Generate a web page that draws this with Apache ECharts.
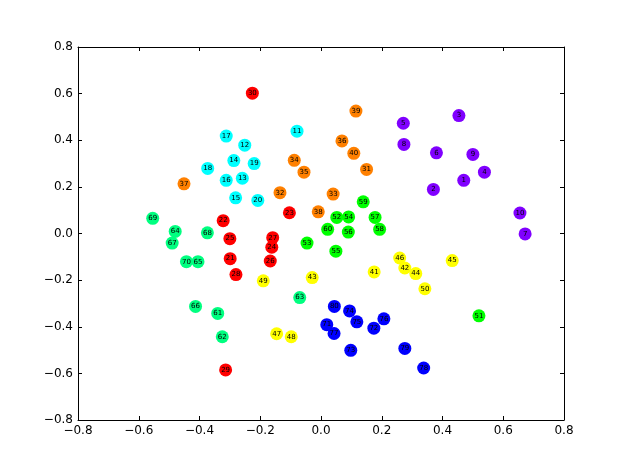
<!DOCTYPE html>
<html>
<head>
<meta charset="utf-8">
<script src="https://cdn.jsdelivr.net/npm/echarts@6/dist/echarts.min.js"></script>
<style>
html, body { margin: 0; padding: 0; background: #fff; }
#chart { width: 623px; height: 467px; }
</style>
</head>
<body>
<div id="chart"></div>
<script>
// point numbers 1..80, coordinates
const ids = Array.from({ length: 80 }, (_, i) => i + 1)
const xVals = [
  0.470, 0.370, 0.454, 0.538, 0.271, 0.380, 0.672, 0.273, 0.500, 0.655,
  -0.079, -0.251, -0.259, -0.287, -0.281, -0.312, -0.312, -0.373, -0.220, -0.208,
  -0.299, -0.322, -0.104, -0.162, -0.300, -0.167, -0.159, -0.280, -0.314, -0.226,
  0.150, -0.135, 0.040, -0.088, -0.056, 0.069, -0.451, -0.009, 0.115, 0.108,
  0.175, 0.276, -0.029, 0.312, 0.432, 0.259, -0.146, -0.098, -0.190, 0.342,
  0.520, 0.052, -0.046, 0.091, 0.049, 0.090, 0.178, 0.193, 0.139, 0.022,
  -0.340, -0.325, -0.070, -0.480, -0.405, -0.413, -0.490, -0.374, -0.554, -0.443,
  0.019, 0.174, 0.098, 0.094, 0.118, 0.207, 0.043, 0.338, 0.276, 0.044
]
const yVals = [
  0.228, 0.189, 0.506, 0.263, 0.473, 0.346, -0.002, 0.382, 0.339, 0.088,
  0.439, 0.379, 0.237, 0.313, 0.153, 0.228, 0.418, 0.279, 0.300, 0.142,
  -0.108, 0.055, 0.089, -0.059, -0.022, -0.118, -0.018, -0.176, -0.585, 0.602,
  0.275, 0.175, 0.169, 0.314, 0.263, 0.397, 0.213, 0.093, 0.525, 0.344,
  -0.165, -0.148, -0.189, -0.172, -0.116, -0.105, -0.430, -0.443, -0.203, -0.237,
  -0.353, 0.069, -0.041, 0.071, -0.076, 0.006, 0.069, 0.018, 0.136, 0.018,
  -0.343, -0.443, -0.275, 0.009, -0.121, -0.313, -0.041, 0.003, 0.065, -0.121,
  -0.391, -0.406, -0.501, -0.332, -0.379, -0.366, -0.429, -0.577, -0.493, -0.313
]
// each group of ten points has its own colour
const groupColors = ['#8000ff', '#00ffff', '#ff0000', '#ff8000', '#ffff00', '#00ff00', '#00ff80', '#0000ff']
const axisTicks = [-0.8, -0.6, -0.4, -0.2, 0.0, 0.2, 0.4, 0.6, 0.8]

const fmt = v => v.toFixed(1).replace('-', '\u2212')

const chart = echarts.init(document.getElementById('chart'))

const series = groupColors.map((c, g) => ({
  type: 'scatter',
  symbol: 'circle',
  symbolSize: 13,
  itemStyle: { color: c, opacity: 1 },
  label: {
    show: true,
    position: 'inside',
    formatter: p => p.value[2],
    fontSize: 7,
    fontFamily: 'DejaVu Sans',
    color: '#000'
  },
  data: ids.slice(g * 10, g * 10 + 10).map(id => [xVals[id - 1], yVals[id - 1], id])
}))

const baseAxis = {
  type: 'value',
  min: axisTicks[0],
  max: axisTicks[axisTicks.length - 1],
  interval: 0.2,
  splitLine: { show: false },
  axisLine: { show: true, onZero: false, lineStyle: { color: '#000', width: 1 } },
  axisTick: { show: true, inside: true, length: 4, lineStyle: { color: '#000' } }
}
const lbl = { fontSize: 12, fontFamily: 'DejaVu Sans', color: '#000', formatter: fmt }

chart.setOption({
  animation: false,
  grid: { left: 78, right: 59, top: 47, bottom: 47 },
  xAxis: [
    { ...baseAxis, position: 'bottom', axisLabel: { ...lbl, margin: 5 } },
    { ...baseAxis, position: 'top', axisLabel: { show: false } }
  ],
  yAxis: [
    { ...baseAxis, position: 'left', axisLabel: { ...lbl, margin: 5 } },
    { ...baseAxis, position: 'right', axisLabel: { show: false } }
  ],
  series: series
})
</script>
</body>
</html>
